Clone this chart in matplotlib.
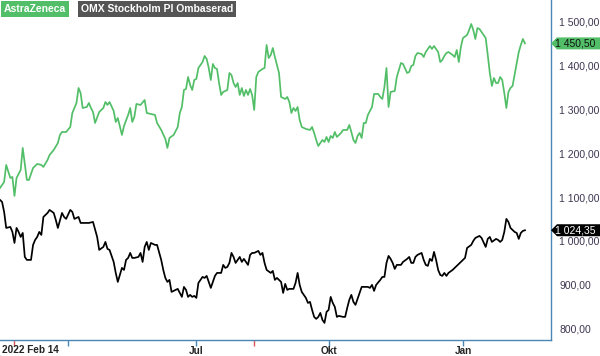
import matplotlib
matplotlib.use('Agg')
import matplotlib.pyplot as plt
from matplotlib.patches import Polygon
from matplotlib.lines import Line2D
from matplotlib.transforms import IdentityTransform
from matplotlib.ticker import FuncFormatter, FixedLocator

plt.rcParams['font.family'] = ['Liberation Sans', 'DejaVu Sans']

# trading days since 2022-02-14 and closing values (SEK)
az_day = [0, 2, 3, 5, 6, 7, 8, 10, 11, 13, 14, 16, 18, 20, 21, 23, 24, 26, 28, 29,
          30, 32, 34, 35, 37, 38, 39, 40, 42, 43, 44, 45, 46, 48, 50, 51, 52, 53, 55, 56,
          57, 59, 60, 62, 63, 64, 65, 66, 68, 70, 71, 73, 75, 76, 78, 80, 81, 82, 84, 86,
          87, 88, 89, 90, 91, 92, 93, 94, 95, 96, 98, 99, 100, 101, 102, 103, 104, 105, 106, 107,
          108, 110, 111, 112, 113, 114, 115, 116, 117, 118, 119, 120, 121, 122, 123, 124, 125, 127, 128, 129,
          130, 131, 132, 133, 135, 136, 138, 139, 140, 141, 142, 143, 144, 145, 146, 148, 150, 151, 152, 153,
          154, 156, 157, 158, 159, 160, 161, 162, 163, 165, 166, 168, 169, 170, 171, 172, 173, 174, 175, 176,
          177, 178, 180, 181, 183, 184, 185, 186, 187, 188, 189, 191, 192, 194, 195, 197, 198, 199, 200, 201,
          202, 204, 205, 206, 208, 209, 210, 212, 213, 214, 215, 216, 217, 219, 220, 221, 222, 223, 224, 226,
          227, 228, 229, 230, 231, 232, 233, 235, 236, 237, 238, 239, 240, 241, 242, 243, 244, 245, 246, 247,
          248, 250, 251, 252, 253, 254]
az_val = [1120.8, 1134.5, 1173.3, 1143.6, 1145.9, 1102.6, 1143.6, 1161.9, 1212.0, 1139.1,
          1139.1, 1166.4, 1175.6, 1173.3, 1168.7, 1184.7, 1196.1, 1207.5, 1223.4, 1241.7,
          1248.5, 1248.5, 1259.9, 1291.8, 1314.6, 1348.8, 1337.4, 1303.2, 1305.5, 1314.6,
          1303.2, 1294.1, 1269.0, 1294.1, 1303.2, 1316.9, 1310.1, 1316.9, 1296.4, 1271.3,
          1280.4, 1241.7, 1262.2, 1287.3, 1303.2, 1271.3, 1282.7, 1312.4, 1310.1, 1321.5,
          1291.8, 1289.6, 1287.3, 1269.0, 1253.1, 1232.6, 1212.0, 1234.8, 1241.7, 1259.9,
          1291.8, 1305.5, 1344.3, 1346.6, 1373.9, 1355.7, 1344.3, 1367.1, 1369.4, 1394.4,
          1408.1, 1421.8, 1415.0, 1394.4, 1367.1, 1403.6, 1394.4, 1392.2, 1360.2, 1332.9,
          1339.7, 1344.3, 1383.0, 1378.5, 1360.2, 1351.1, 1360.2, 1332.9, 1348.8, 1330.6,
          1344.3, 1332.9, 1346.6, 1332.9, 1298.7, 1373.9, 1385.3, 1392.2, 1394.4, 1446.9,
          1417.2, 1424.1, 1440.0, 1419.5, 1383.0, 1328.3, 1323.8, 1328.3, 1316.9, 1291.8,
          1303.2, 1296.4, 1305.5, 1275.9, 1259.9, 1255.4, 1253.1, 1259.9, 1246.2, 1230.3,
          1216.6, 1230.3, 1225.7, 1237.1, 1225.7, 1239.4, 1234.8, 1248.5, 1237.1, 1246.2,
          1253.1, 1253.1, 1264.5, 1248.5, 1230.3, 1223.4, 1239.4, 1246.2, 1234.8, 1269.0,
          1269.0, 1287.3, 1305.5, 1335.2, 1335.2, 1328.3, 1323.8, 1351.1, 1394.4, 1305.5,
          1339.7, 1342.0, 1373.9, 1405.8, 1403.6, 1383.0, 1385.3, 1399.0, 1401.3, 1421.8,
          1428.6, 1426.4, 1419.5, 1430.9, 1444.6, 1437.8, 1444.6, 1430.9, 1408.1, 1412.7,
          1421.8, 1428.6, 1430.9, 1424.1, 1419.5, 1435.5, 1408.1, 1442.3, 1462.8, 1469.7,
          1481.1, 1494.8, 1481.1, 1460.6, 1485.6, 1483.4, 1476.5, 1462.8, 1424.1, 1383.0,
          1353.4, 1371.6, 1360.2, 1360.2, 1373.9, 1367.1, 1337.4, 1303.2, 1339.7, 1348.8,
          1353.4, 1405.8, 1430.9, 1446.9, 1460.6, 1450.5]

omx_day = [0, 1, 2, 3, 5, 6, 7, 8, 9, 10, 11, 12, 13, 15, 16, 17, 18, 19, 20, 21,
           23, 24, 26, 27, 28, 30, 31, 32, 34, 35, 36, 38, 39, 40, 43, 45, 47, 48, 50, 51,
           52, 53, 55, 56, 57, 58, 59, 60, 61, 62, 63, 64, 65, 67, 68, 69, 70, 71, 72, 73,
           75, 76, 78, 79, 80, 81, 82, 83, 85, 86, 87, 88, 89, 90, 91, 92, 93, 94, 95, 96,
           98, 99, 100, 101, 102, 103, 104, 105, 107, 108, 109, 110, 111, 112, 113, 114, 116, 117, 118, 120,
           121, 122, 123, 125, 126, 127, 128, 129, 131, 132, 133, 134, 136, 137, 138, 139, 140, 142, 143, 144,
           145, 146, 148, 149, 150, 151, 152, 153, 154, 155, 156, 157, 158, 159, 160, 161, 162, 163, 164, 166,
           167, 168, 169, 170, 171, 172, 174, 175, 177, 178, 179, 180, 181, 182, 184, 185, 186, 187, 188, 189,
           190, 191, 192, 194, 195, 197, 198, 199, 200, 201, 202, 204, 205, 206, 207, 208, 209, 210, 211, 212,
           213, 214, 215, 216, 217, 219, 220, 222, 223, 225, 226, 228, 229, 230, 231, 232, 233, 235, 236, 237,
           238, 240, 241, 242, 243, 244, 245, 246, 247, 248, 249, 250, 251, 252, 253, 254]
omx_val = [1093.5, 1088.9, 1066.1, 1029.6, 1031.9, 1020.5, 995.4, 1029.6, 1020.5, 1009.1,
           1018.2, 963.5, 956.7, 956.7, 990.9, 1002.3, 1009.1, 1020.5, 1013.7, 1054.7,
           1063.8, 1070.7, 1063.8, 1047.9, 1029.6, 1063.8, 1054.7, 1050.2, 1070.7, 1066.1,
           1050.2, 1054.7, 1041.0, 1041.0, 1041.0, 1043.3, 1009.1, 979.5, 986.3, 997.7,
           981.8, 979.5, 952.1, 927.0, 906.5, 922.5, 938.4, 933.9, 956.7, 961.2,
           972.6, 961.2, 961.2, 963.5, 972.6, 952.1, 986.3, 997.7, 979.5, 995.4,
           990.9, 990.9, 956.7, 933.9, 915.6, 906.5, 911.1, 883.7, 888.3, 890.6,
           881.4, 872.3, 895.1, 888.3, 872.3, 876.9, 872.3, 874.6, 870.0, 904.2,
           917.9, 915.6, 920.2, 906.5, 892.8, 906.5, 920.2, 927.0, 927.0, 945.3,
           938.4, 940.7, 949.8, 972.6, 963.5, 949.8, 963.5, 952.1, 959.0, 945.3,
           968.1, 972.6, 972.6, 977.2, 968.1, 972.6, 949.8, 933.9, 927.0, 931.6,
           911.1, 915.6, 906.5, 881.4, 902.0, 888.3, 890.6, 890.6, 904.2, 927.0,
           899.7, 883.7, 870.0, 858.6, 860.9, 842.7, 826.7, 822.2, 826.7, 835.8,
           819.9, 813.0, 838.1, 842.7, 872.3, 858.6, 849.5, 826.7, 829.0, 826.7,
           826.7, 847.2, 865.5, 876.9, 860.9, 854.1, 881.4, 895.1, 895.1, 895.1,
           892.8, 899.7, 886.0, 899.7, 911.1, 917.9, 917.9, 949.8, 965.8, 959.0,
           949.8, 936.2, 945.3, 945.3, 952.1, 959.0, 963.5, 949.8, 949.8, 963.5,
           968.1, 972.6, 956.7, 945.3, 943.0, 959.0, 954.4, 974.9, 956.7, 933.9,
           922.5, 920.2, 927.0, 920.2, 927.0, 933.9, 938.4, 947.6, 952.1, 961.2,
           984.0, 990.9, 1000.0, 1006.8, 1009.1, 1011.4, 1006.8, 986.3, 1004.6, 1009.1,
           997.7, 1004.6, 1002.3, 997.7, 1002.3, 1020.5, 1050.2, 1043.3, 1029.6, 1025.1,
           1020.5, 1018.2, 1004.6, 1018.2, 1022.8, 1024.35]

month_days = [33, 95, 159, 224]
month_labels = ['', 'Jul', 'Okt', 'Jan']
dividend_days = [7, 123]
start_label = '2022 Feb 14'
y_ticks = [800, 900, 1000, 1100, 1200, 1300, 1400, 1500]

green = '#52bf68'
axis_blue = '#4a87b5'


def sek(v, pos=None):
    return '{:,.2f}'.format(v).replace(',', ' ').replace('.', ',')


fig = plt.figure(figsize=(6, 3.56), dpi=100)
ax = fig.add_axes([0, 16 / 356, 551 / 600, 340 / 356])

ax.plot(az_day, az_val, color=green, lw=1.25, solid_joinstyle='round')
ax.plot(omx_day, omx_val, color='black', lw=1.25, solid_joinstyle='round')

ax.set_xlim(0, 266.6)
ax.set_ylim(774, 1549.5)

for s in ['left', 'top']:
    ax.spines[s].set_visible(False)
for s in ['right', 'bottom']:
    ax.spines[s].set_color(axis_blue)
    ax.spines[s].set_linewidth(1.0)

ax.yaxis.tick_right()
ax.yaxis.set_major_locator(FixedLocator(y_ticks))
ax.yaxis.set_major_formatter(FuncFormatter(sek))
ax.tick_params(axis='y', length=0, pad=6, labelsize=7.5, labelcolor='#3d3550')

ax.set_xticks(month_days)
ax.set_xticklabels(month_labels, fontweight='bold')
ax.tick_params(axis='x', direction='out', length=4, width=1, color=axis_blue,
               labelsize=7.2, labelcolor='#222222', pad=0.5)
ax.set_xticks(dividend_days, minor=True)
ax.tick_params(axis='x', which='minor', direction='out', length=4, width=1, color='#e05555')

ax.text(0.004, -0.014, start_label, transform=ax.transAxes, ha='left', va='top',
        fontsize=7.2, fontweight='bold', color='#222222')

# legend boxes
legend = [('AstraZeneca', green, '#3f9c52', 4), ('OMX Stockholm PI Ombaserad', '#555555', '#111111', 81)]
fig.canvas.draw()
renderer = fig.canvas.get_renderer()
for label, bg, under, xp in legend:
    t = fig.text(xp / 600, 1 - 9 / 356, label, ha='left', va='center', fontsize=7.5,
                 fontweight='bold', color='white',
                 bbox=dict(boxstyle='square,pad=0.25', fc=bg, ec='none'))
    bb = t.get_bbox_patch().get_window_extent(renderer) if t.get_bbox_patch() else None
    if bb is None:
        fig.canvas.draw()
        bb = t.get_bbox_patch().get_window_extent(renderer)
    fig.add_artist(Line2D([bb.x0, bb.x1], [bb.y0 - 0.5, bb.y0 - 0.5], color=under, lw=1.5,
                          transform=IdentityTransform()))

# last value tags on the right axis
fig.canvas.draw()
H = fig.bbox.height
for val, bg, fg in [(az_val[-1], green, '#111111'), (omx_val[-1], 'black', 'white')]:
    xr, yr = ax.transAxes.transform((1, 0))[0], ax.transData.transform((0, val))[1]
    h = 6
    pts = [(xr, yr), (xr + 6, yr + h), (600, yr + h), (600, yr - h), (xr + 6, yr - h)]
    fig.add_artist(Polygon(pts, closed=True, fc=bg, ec='none', transform=IdentityTransform(),
                           zorder=5))
    fig.text((xr + 4) / 600, yr / H, sek(val), ha='left', va='center', fontsize=7.5,
             color=fg, zorder=6)

fig.savefig('out.png', dpi=100)
